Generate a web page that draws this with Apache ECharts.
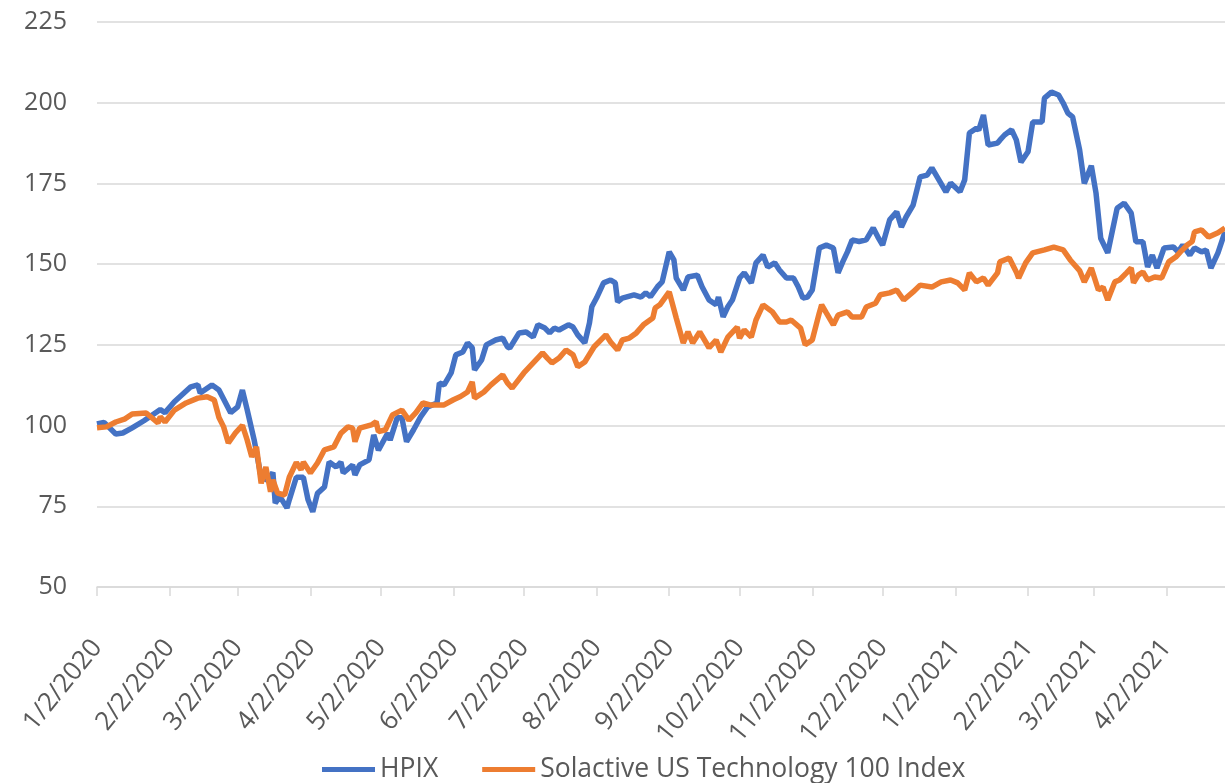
<!DOCTYPE html>
<html>
<head>
<meta charset="utf-8">
<script src="https://cdn.jsdelivr.net/npm/echarts@6/dist/echarts.min.js"></script>
<style>
  html, body { margin: 0; padding: 0; background: #fff; }
  #lineChart { width: 1225px; height: 783px; }
</style>
</head>
<body>
<div id="lineChart"></div>
<script>
// calendar range of the x axis
const startDate = '2020-01-02'
const endDate = '2021-04-27'
// dates that get a tick + label
const tickDates = ['2020-01-02', '2020-02-02', '2020-03-02', '2020-04-02', '2020-05-02', '2020-06-02',
  '2020-07-02', '2020-08-02', '2020-09-02', '2020-10-02', '2020-11-02', '2020-12-02',
  '2021-01-02', '2021-02-02', '2021-03-02', '2021-04-02']
const yTicks = [50, 75, 100, 125, 150, 175, 200, 225]
const seriesNames = ['HPIX', 'Solactive US Technology 100 Index']

const hpixDates = ['2020-01-02', '2020-01-05', '2020-01-10', '2020-01-13', '2020-01-17', '2020-01-22', '2020-01-27', '2020-01-29', '2020-01-31',
  '2020-02-04', '2020-02-11', '2020-02-14', '2020-02-15', '2020-02-20', '2020-02-23', '2020-02-28',
  '2020-03-02', '2020-03-04', '2020-03-06', '2020-03-09', '2020-03-12', '2020-03-15', '2020-03-17', '2020-03-18', '2020-03-20', '2020-03-23', '2020-03-24', '2020-03-27', '2020-03-30',
  '2020-04-01', '2020-04-03', '2020-04-05', '2020-04-08', '2020-04-10', '2020-04-13', '2020-04-15', '2020-04-16', '2020-04-20', '2020-04-21', '2020-04-23', '2020-04-27', '2020-04-29',
  '2020-05-01', '2020-05-05', '2020-05-06', '2020-05-09', '2020-05-11', '2020-05-13', '2020-05-16', '2020-05-19', '2020-05-22', '2020-05-26', '2020-05-27', '2020-05-29',
  '2020-06-01', '2020-06-03', '2020-06-06', '2020-06-08', '2020-06-10', '2020-06-11', '2020-06-14', '2020-06-16', '2020-06-20', '2020-06-23', '2020-06-25', '2020-06-26', '2020-06-30',
  '2020-07-03', '2020-07-06', '2020-07-08', '2020-07-11', '2020-07-13', '2020-07-15', '2020-07-17', '2020-07-21', '2020-07-23', '2020-07-25', '2020-07-28', '2020-07-30', '2020-07-31',
  '2020-08-02', '2020-08-05', '2020-08-08', '2020-08-10', '2020-08-11', '2020-08-13', '2020-08-18', '2020-08-21', '2020-08-23', '2020-08-25', '2020-08-28', '2020-08-30',
  '2020-09-02', '2020-09-04', '2020-09-05', '2020-09-08', '2020-09-10', '2020-09-14', '2020-09-16', '2020-09-19', '2020-09-22', '2020-09-23', '2020-09-25', '2020-09-27', '2020-09-29',
  '2020-10-02', '2020-10-04', '2020-10-07', '2020-10-09', '2020-10-12', '2020-10-14', '2020-10-17', '2020-10-19', '2020-10-22', '2020-10-25', '2020-10-27', '2020-10-29', '2020-10-31',
  '2020-11-02', '2020-11-05', '2020-11-08', '2020-11-11', '2020-11-13', '2020-11-15', '2020-11-17', '2020-11-19', '2020-11-22', '2020-11-25', '2020-11-28', '2020-11-30',
  '2020-12-02', '2020-12-05', '2020-12-08', '2020-12-10', '2020-12-12', '2020-12-15', '2020-12-18', '2020-12-21', '2020-12-23', '2020-12-26', '2020-12-29', '2020-12-31',
  '2021-01-04', '2021-01-06', '2021-01-08', '2021-01-11', '2021-01-12', '2021-01-14', '2021-01-16', '2021-01-20', '2021-01-21', '2021-01-23', '2021-01-26', '2021-01-28', '2021-01-30',
  '2021-02-02', '2021-02-04', '2021-02-08', '2021-02-09', '2021-02-12', '2021-02-15', '2021-02-17', '2021-02-19', '2021-02-21', '2021-02-24', '2021-02-26',
  '2021-03-01', '2021-03-03', '2021-03-05', '2021-03-08', '2021-03-12', '2021-03-15', '2021-03-18', '2021-03-20', '2021-03-23', '2021-03-25', '2021-03-27', '2021-03-29',
  '2021-04-01', '2021-04-05', '2021-04-07', '2021-04-09', '2021-04-12', '2021-04-14', '2021-04-17', '2021-04-19', '2021-04-21', '2021-04-24', '2021-04-27']
const hpixValues = [100.5, 101, 97.4, 97.7, 99.3, 101.5, 104, 105, 104,
  107.4, 112, 112.6, 110.1, 112.6, 111, 104,
  105.8, 111, 105, 95.6, 84, 83, 85.5, 76, 78, 74.5, 77, 84, 84,
  77, 73.3, 79, 81, 88.7, 87.2, 88.7, 85.3, 87.8, 84.7, 87.8, 89.4, 97.1,
  92.4, 97.7, 95.5, 102.4, 102.4, 95, 98.7, 102.7, 105.8, 107, 113.2, 112.6,
  116.3, 121.9, 122.8, 125.6, 124.1, 117.2, 120.3, 125, 126.5, 127.1, 124.4, 124, 128.7,
  129, 127.4, 131.2, 130.2, 128.7, 130.2, 129.6, 131.2, 130.5, 128.1, 125.6, 131.8, 136.8,
  139.5, 144.2, 145.1, 144.2, 138.3, 139.5, 140.5, 139.8, 141.1, 139.9, 143, 144.5,
  153.8, 151.3, 145.7, 142, 146, 146.6, 143, 138.9, 137.4, 139.8, 133.7, 136.8, 139,
  145.7, 147.3, 144.2, 150.4, 152.8, 149.1, 150.4, 148.2, 145.7, 145.7, 143, 139.5, 139.8,
  142, 155, 155.9, 155, 147.3, 150.7, 153.8, 157.5, 157, 157.5, 161.2, 158.4,
  155.9, 163.7, 166.2, 161.5, 164.6, 168.3, 177, 177.6, 179.8, 176.1, 172.4, 175.1,
  172.4, 176.1, 190.6, 192.1, 191.5, 196.2, 186.9, 187.5, 188.4, 190, 191.6, 188.5, 181.6,
  184.8, 194, 194, 201.4, 203.3, 202.4, 199.9, 196.8, 195.6, 185.4, 175,
  180.5, 172, 158, 153.5, 167.3, 168.9, 165.8, 156.9, 156.9, 149.1, 152.8, 148.8,
  155, 155.3, 153.8, 155.9, 152.8, 155, 153.8, 154.4, 148.8, 153.5, 160]

const solDates = ['2020-01-02', '2020-01-06', '2020-01-10', '2020-01-14', '2020-01-17', '2020-01-23', '2020-01-28', '2020-01-29', '2020-01-31',
  '2020-02-04', '2020-02-09', '2020-02-14', '2020-02-18', '2020-02-21', '2020-02-23', '2020-02-25', '2020-02-27',
  '2020-03-01', '2020-03-04', '2020-03-06', '2020-03-08', '2020-03-10', '2020-03-12', '2020-03-14', '2020-03-16', '2020-03-17', '2020-03-19', '2020-03-22', '2020-03-24', '2020-03-27', '2020-03-29', '2020-03-30',
  '2020-04-02', '2020-04-05', '2020-04-08', '2020-04-12', '2020-04-15', '2020-04-18', '2020-04-20', '2020-04-21', '2020-04-23', '2020-04-28', '2020-04-30',
  '2020-05-01', '2020-05-04', '2020-05-07', '2020-05-11', '2020-05-14', '2020-05-17', '2020-05-20', '2020-05-23', '2020-05-29',
  '2020-06-02', '2020-06-05', '2020-06-08', '2020-06-10', '2020-06-11', '2020-06-15', '2020-06-18', '2020-06-23', '2020-06-25', '2020-06-27',
  '2020-07-02', '2020-07-06', '2020-07-10', '2020-07-12', '2020-07-14', '2020-07-17', '2020-07-20', '2020-07-23', '2020-07-25', '2020-07-28',
  '2020-08-01', '2020-08-06', '2020-08-08', '2020-08-11', '2020-08-13', '2020-08-16', '2020-08-19', '2020-08-22', '2020-08-26', '2020-08-27', '2020-08-29',
  '2020-09-02', '2020-09-05', '2020-09-08', '2020-09-10', '2020-09-12', '2020-09-15', '2020-09-19', '2020-09-22', '2020-09-24', '2020-09-27',
  '2020-10-01', '2020-10-02', '2020-10-04', '2020-10-07', '2020-10-09', '2020-10-12', '2020-10-16', '2020-10-19', '2020-10-22', '2020-10-24', '2020-10-28', '2020-10-30',
  '2020-11-02', '2020-11-05', '2020-11-06', '2020-11-08', '2020-11-11', '2020-11-13', '2020-11-17', '2020-11-19', '2020-11-23', '2020-11-25', '2020-11-29',
  '2020-12-01', '2020-12-05', '2020-12-08', '2020-12-11', '2020-12-15', '2020-12-18', '2020-12-23', '2020-12-27', '2020-12-31',
  '2021-01-03', '2021-01-06', '2021-01-08', '2021-01-11', '2021-01-14', '2021-01-16', '2021-01-20', '2021-01-21', '2021-01-25', '2021-01-28', '2021-01-29',
  '2021-02-01', '2021-02-04', '2021-02-09', '2021-02-13', '2021-02-17', '2021-02-20', '2021-02-24', '2021-02-26',
  '2021-03-01', '2021-03-04', '2021-03-06', '2021-03-08', '2021-03-11', '2021-03-13', '2021-03-16', '2021-03-18', '2021-03-19', '2021-03-21', '2021-03-23', '2021-03-25', '2021-03-28', '2021-03-31',
  '2021-04-03', '2021-04-06', '2021-04-08', '2021-04-11', '2021-04-13', '2021-04-14', '2021-04-17', '2021-04-20', '2021-04-24', '2021-04-27']
const solValues = [99.3, 99.6, 101.1, 102.1, 103.6, 103.9, 100.8, 102.7, 101.1,
  104.8, 107, 108.5, 108.9, 107.9, 102.5, 99.6, 94.6,
  97.7, 100.1, 95.6, 90.3, 93.4, 82.1, 87.2, 79.5, 83.2, 79.1, 78.5, 84, 88.6, 86.3, 88.7,
  85.3, 88.4, 92.5, 93.4, 97.6, 99.6, 99.2, 95, 99.2, 100.2, 101.2,
  98.1, 98.7, 103.3, 104.8, 101.7, 104, 107, 106.4, 106.4,
  108, 109, 110.4, 113.5, 108.5, 110.4, 112.6, 115.7, 113.2, 111.6,
  116.3, 119.4, 122.5, 120.9, 119.4, 120.9, 123.4, 121.9, 118.2, 119.7,
  124.4, 128.1, 125.9, 123.4, 126.5, 127.1, 128.7, 131.2, 133.3, 136.4, 137.4,
  141.4, 133.3, 125.6, 129, 125.6, 129, 124.1, 126.5, 122.8, 127.4,
  130.5, 127.1, 129.6, 127.4, 132.7, 137.4, 135.2, 132.1, 132.1, 132.7, 130.2, 125,
  126.5, 134.9, 137.4, 134.9, 131.2, 134.2, 135.2, 133.6, 133.6, 136.7, 137.9,
  140.5, 141.1, 142, 138.9, 141.4, 143.5, 142.9, 144.5, 145.1,
  144.2, 142, 147.3, 144.5, 145.7, 143.5, 147.3, 150.7, 151.9, 147.6, 145.7,
  150.4, 153.5, 154.4, 155.3, 154.4, 151.3, 148, 144.5,
  148.8, 142, 142.9, 138.9, 144.5, 145.1, 147.3, 148.8, 144.2, 146.6, 147.6, 145.1, 146, 145.7,
  150.7, 152.2, 153.8, 156, 157, 160, 160.6, 158.4, 159.7, 161.2]

// every calendar day between start and end is one category
function buildDays (from, to) {
  const out = []
  let t = Date.parse(from + 'T00:00:00Z')
  const stop = Date.parse(to + 'T00:00:00Z')
  while (t <= stop) {
    out.push(new Date(t).toISOString().slice(0, 10))
    t += 86400000
  }
  return out
}
const days = buildDays(startDate, endDate)

function toPairs (dates, values) {
  return dates.map((d, i) => [days.indexOf(d), values[i]])
}

const textColor = '#595959'
const gridColor = '#d9d9d9'
const fontFamily = 'Open Sans, sans-serif'

const isTick = (index, value) => tickDates.indexOf(value) !== -1

const options = {
  animation: false,
  color: ['#4472c4', '#ed7d31'],
  textStyle: { fontFamily: fontFamily },
  grid: {
    left: 97,
    right: 0,
    top: 22,
    bottom: 196
  },
  legend: {
    data: seriesNames,
    left: 322,
    top: 756,
    padding: 0,
    icon: 'rect',
    itemWidth: 53,
    itemHeight: 5,
    itemGap: 44,
    textStyle: { color: textColor, fontSize: 26.5, fontFamily: fontFamily }
  },
  xAxis: {
    type: 'category',
    data: days,
    boundaryGap: false,
    axisLine: { lineStyle: { color: gridColor, width: 1.5 } },
    axisTick: {
      interval: isTick,
      length: 9,
      lineStyle: { color: gridColor, width: 1.5 }
    },
    axisLabel: {
      interval: isTick,
      rotate: 51,
      margin: 56,
      color: textColor,
      fontSize: 26,
      fontFamily: fontFamily,
      formatter: function (value) {
        const p = value.split('-')
        return (+p[1]) + '/' + (+p[2]) + '/' + p[0]
      }
    },
    splitLine: { show: false }
  },
  yAxis: {
    type: 'value',
    min: yTicks[0],
    max: yTicks[yTicks.length - 1],
    interval: 25,
    axisLine: { show: false },
    axisTick: { show: false },
    axisLabel: { color: textColor, fontSize: 25, margin: 30, fontFamily: fontFamily },
    splitLine: { lineStyle: { color: gridColor, width: 1.5 } }
  },
  series: [
    {
      name: seriesNames[0],
      type: 'line',
      showSymbol: false,
      symbol: 'none',
      lineStyle: { width: 5.5 },
      data: toPairs(hpixDates, hpixValues)
    },
    {
      name: seriesNames[1],
      type: 'line',
      showSymbol: false,
      symbol: 'none',
      lineStyle: { width: 5.5 },
      data: toPairs(solDates, solValues)
    }
  ]
}

const myChart = echarts.init(document.getElementById('lineChart'))
myChart.setOption(options)
</script>
</body>
</html>
